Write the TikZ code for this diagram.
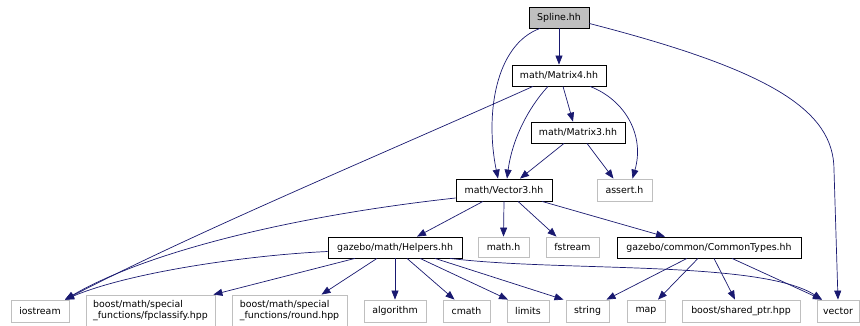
\documentclass[tikz,border=0pt]{standalone}
\usepackage{fontspec}
\setmainfont{DejaVu Sans}
\usetikzlibrary{arrows.meta}
\definecolor{edgeblue}{HTML}{191970}
\definecolor{sysgray}{HTML}{BFBFBF}
\begin{document}
\begin{tikzpicture}[x=1pt, y=-1pt,
  every node/.style={font=\fontsize{9.4}{11.5}\selectfont, inner sep=0pt, line width=0.8pt},
  doc/.style={draw=black, minimum height=21pt},
  sys/.style={draw=sysgray, minimum height=22pt},
  dep/.style={draw=edgeblue, line width=0.7pt, -{Triangle[length=9pt,width=7pt]}, fill=none}]
\useasboundingbox (0,0) rectangle (860,325);
% documented headers
\node[doc, fill=sysgray, minimum width=60pt] (spline) at (559,17.5) {Spline.hh};
\node[doc, minimum width=94pt] (m4) at (559,75.5) {math/Matrix4.hh};
\node[doc, minimum width=94pt] (m3) at (578,132.5) {math/Matrix3.hh};
\node[doc, minimum width=96pt, minimum height=22pt] (v3) at (504,190) {math/Vector3.hh};
\node[doc, minimum width=134pt] (helpers) at (395,247.5) {gazebo/math/Helpers.hh};
\node[doc, minimum width=184pt] (common) at (709,247.5) {gazebo/common/CommonTypes.hh};
% system headers
\node[sys, minimum width=55pt] (assert) at (624.5,190) {assert.h};
\node[sys, minimum width=51pt, minimum height=20pt] (mathh) at (503.5,247) {math.h};
\node[sys, minimum width=53pt, minimum height=20pt] (fstream) at (572.5,247) {fstream};
\node[sys, minimum width=58pt] (iostream) at (40,311) {iostream};
\node[sys, minimum width=129pt, minimum height=31pt, align=left] (fpc) at (150.5,310.5)
  {boost/math/special\\\_functions/fpclassify.hpp};
\node[sys, minimum width=115pt, minimum height=31pt, align=left] (round) at (289.5,310.5)
  {boost/math/special\\\_functions/round.hpp};
\node[sys, minimum width=62pt] (algorithm) at (395,311) {algorithm};
\node[sys, minimum width=47pt] (cmath) at (466.5,311) {cmath};
\node[sys, minimum width=42pt] (limits) at (528,311) {limits};
\node[sys, minimum width=43pt] (string) at (587.5,311) {string};
\node[sys, minimum width=38pt] (map) at (646,311) {map};
\node[sys, minimum width=118pt] (shared) at (741,311) {boost/shared\_ptr.hpp};
\node[sys, minimum width=42pt] (vector) at (838,311) {vector};
% Spline.hh
\draw[dep] (spline) -- (m4);
\draw[dep] ([xshift=-19pt]spline.south) .. controls (495,45) and (485,115) .. ([xshift=-6pt]v3.north);
\draw[dep] ([yshift=-6pt]spline.east) .. controls (770,70) and (834,110) .. (834,170) -- (vector.north);
% Matrix4.hh
\draw[dep] ([xshift=-26pt]m4.south) .. controls (380,155) and (200,230) .. ([xshift=25pt]iostream.north);
\draw[dep] ([xshift=-11pt]m4.south) .. controls (528,108) and (512,140) .. ([xshift=3pt]v3.north);
\draw[dep] ([xshift=4pt]m4.south) -- ([xshift=-5pt]m3.north);
\draw[dep] ([xshift=31pt]m4.south) .. controls (625,100) and (645,135) .. ([xshift=8pt]assert.north);
% Matrix3.hh
\draw[dep] ([xshift=-14pt]m3.south) -- ([xshift=16pt]v3.north);
\draw[dep] ([xshift=9pt]m3.south) -- ([xshift=-11pt]assert.north);
% Vector3.hh
\draw[dep] ([yshift=-8pt]v3.west) .. controls (300,215) and (150,250) .. ([xshift=25pt]iostream.north);
\draw[dep] ([xshift=-21pt]v3.south) -- ([xshift=22pt]helpers.north);
\draw[dep] (v3.south) -- (mathh.north);
\draw[dep] ([xshift=14pt]v3.south) -- ([xshift=-16pt]fstream.north);
\draw[dep] ([xshift=38pt]v3.south) -- ([xshift=-44pt]common.north);
% Helpers.hh
\draw[dep] ([yshift=-4pt]helpers.west) .. controls (250,255) and (130,272) .. ([xshift=25pt]iostream.north);
\draw[dep] ([xshift=-40pt]helpers.south) -- ([xshift=-2pt]fpc.north east);
\draw[dep] ([xshift=-18pt]helpers.south) -- ([xshift=32pt]round.north);
\draw[dep] (helpers.south) -- (algorithm.north);
\draw[dep] ([xshift=12pt]helpers.south) -- ([xshift=-12pt]cmath.north);
\draw[dep] ([xshift=25pt]helpers.south) -- ([xshift=-20pt]limits.north);
\draw[dep] ([xshift=40pt]helpers.south) -- ([xshift=-24pt]string.north);
\draw[dep] ([xshift=55pt]helpers.south) .. controls (560,272) and (760,260) .. ([xshift=-16pt]vector.north);
% CommonTypes.hh
\draw[dep] ([xshift=-22pt]common.south) -- ([xshift=19pt]string.north);
\draw[dep] ([xshift=-11pt]common.south) -- ([xshift=12pt]map.north);
\draw[dep] ([xshift=5pt]common.south) -- ([xshift=-6pt]shared.north);
\draw[dep] ([xshift=23pt]common.south) -- ([xshift=-16pt]vector.north);
\end{tikzpicture}
\end{document}
